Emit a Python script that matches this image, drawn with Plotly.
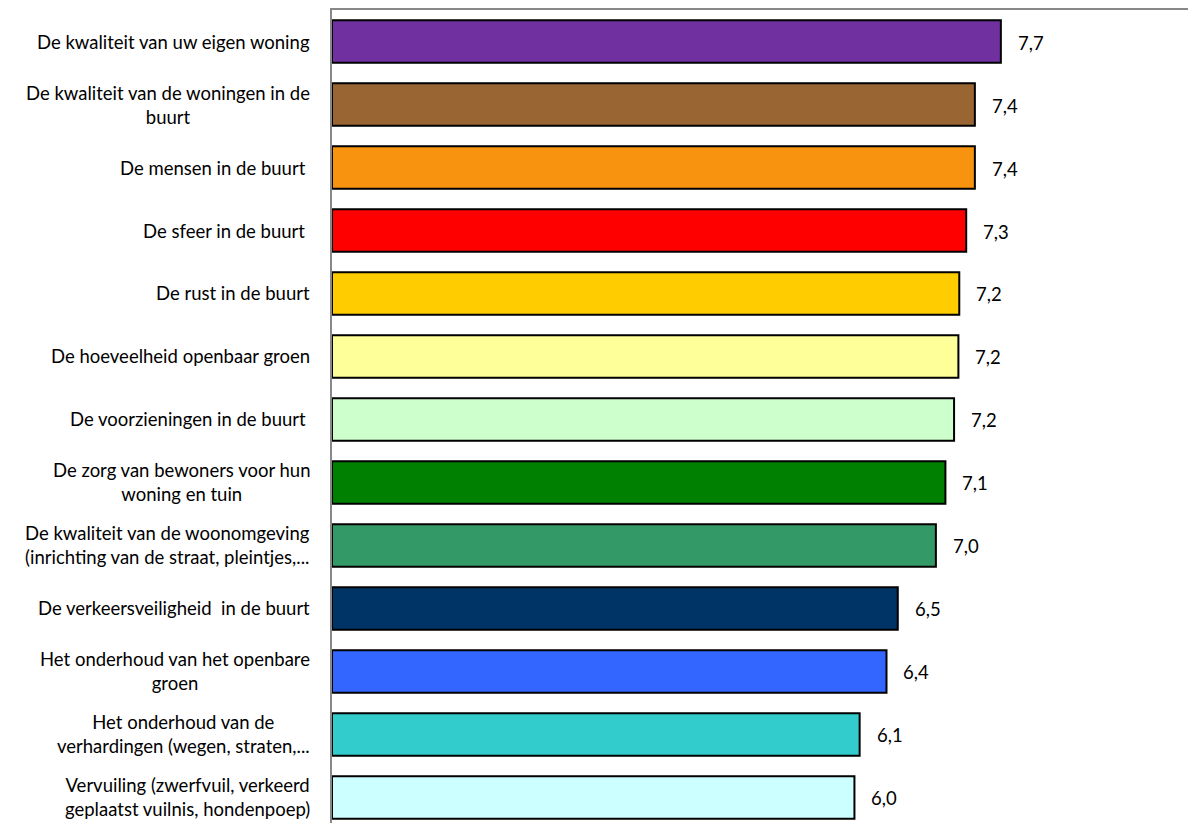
import plotly.graph_objects as go

categories = [
    "De kwaliteit van uw eigen woning",
    "De kwaliteit van de woningen in de<br>buurt",
    "De mensen in de buurt ",
    "De sfeer in de buurt ",
    "De rust in de buurt",
    "De hoeveelheid openbaar groen",
    "De voorzieningen in de buurt ",
    "De zorg van bewoners voor hun<br>woning en tuin",
    "De kwaliteit van de woonomgeving<br>(inrichting van de straat, pleintjes,...",
    "De verkeersveiligheid  in de buurt",
    "Het onderhoud van het openbare<br>groen",
    "Het onderhoud van de<br>verhardingen (wegen, straten,...",
    "Vervuiling (zwerfvuil, verkeerd<br>geplaatst vuilnis, hondenpoep)",
]
values = [7.72, 7.42, 7.42, 7.32, 7.24, 7.23, 7.18, 7.08, 6.97, 6.53, 6.40, 6.09, 6.03]
value_labels = ["7,7", "7,4", "7,4", "7,3", "7,2", "7,2", "7,2", "7,1", "7,0", "6,5", "6,4", "6,1", "6,0"]
colors = ["#7030A0", "#996633", "#F7930F", "#FF0000", "#FFCC00", "#FFFF99", "#CCFFCC",
          "#008000", "#339966", "#003366", "#3366FF", "#33CCCC", "#CCFFFF"]

ypos = list(range(len(categories)))

fig = go.Figure()
fig.add_trace(go.Bar(
    x=values, y=ypos, orientation="h", width=0.675,
    marker=dict(color=colors, line=dict(color="#000000", width=2)),
    hoverinfo="skip", showlegend=False,
))

annotations = []
for i, (cat, v, lab) in enumerate(zip(categories, values, value_labels)):
    annotations.append(dict(
        x=0, y=i, xref="x", yref="y", text=cat, showarrow=False,
        xanchor="right", yanchor="middle", align="center", xshift=-20,
        font=dict(family="Lato", size=18.5, color="#000000"),
    ))
    annotations.append(dict(
        x=v, y=i, xref="x", yref="y", text=lab, showarrow=False,
        xanchor="left", yanchor="middle", xshift=15, yshift=-1,
        font=dict(family="Lato", size=18.5, color="#000000"),
    ))

fig.update_layout(
    width=1188, height=823,
    margin=dict(l=332, r=0, t=10, b=0),
    paper_bgcolor="white", plot_bgcolor="white",
    annotations=annotations,
    xaxis=dict(range=[0, 9.88], side="top", showline=True, linecolor="#888888", linewidth=1.5,
               showgrid=False, zeroline=False, showticklabels=False, ticks=""),
    yaxis=dict(range=[12.405, -0.5], showline=True, linecolor="#888888", linewidth=1.5,
               showgrid=False, zeroline=False, showticklabels=False, ticks=""),
)

fig.write_html(
    "out.html",
    config={"displayModeBar": False},
    post_script="document.body.style.margin='0';document.body.style.overflow='hidden';",
)
